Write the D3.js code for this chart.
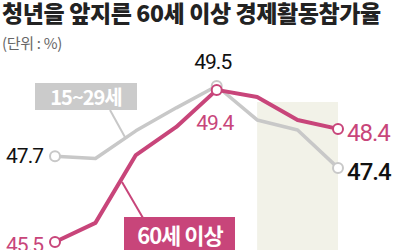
<!DOCTYPE html>
<html>
<head>
<meta charset="utf-8">
<script src="https://cdn.jsdelivr.net/npm/d3@7"></script>
<style>
  body { margin: 0; background: #fff; }
  svg { display: block; }
  .num { font-family: Roboto, "Noto Sans", sans-serif; }
</style>
</head>
<body>
<svg id="chart" width="400" height="250"></svg>
<script>
// periods (no axis shown in the original)
const periods = ['1', '2', '3', '4', '5', '6', '7', '8'];
const youth = [47.7, 47.64, 48.35, 48.94, 49.5, 48.63, 48.37, 47.4];   // 15~29세
const senior = [45.5, 45.99, 47.73, 48.45, 49.4, 49.22, 48.63, 48.4];  // 60세 이상
const highlightFrom = '6', highlightTo = '8';

const pink = '#c8457a', gray = '#c8c8c8';

const svg = d3.select('#chart');

const x = d3.scalePoint().domain(periods).range([55, 338]);
const y = d3.scaleLinear().domain([45.5, 49.5]).range([242, 86]);

// title
svg.append('text')
  .attr('x', 2).attr('y', 22)
  .style('font-family', '"Noto Sans CJK KR", sans-serif')
  .style('font-weight', 900)
  .style('font-size', '23px')
  .style('letter-spacing', '-0.4px')
  .attr('fill', '#222')
  .text('청년을 앞지른 60세 이상 경제활동참가율');

svg.append('text')
  .attr('x', 2).attr('y', 49)
  .style('font-family', '"Noto Sans CJK KR", sans-serif')
  .style('font-size', '15px')
  .style('letter-spacing', '-0.3px')
  .attr('fill', '#666')
  .text('(단위 : %)');

// highlighted period
svg.append('rect')
  .attr('x', x(highlightFrom))
  .attr('y', 102)
  .attr('width', x(highlightTo) - x(highlightFrom))
  .attr('height', 250 - 102)
  .attr('fill', '#f2f2e8');

const line = d3.line().x((d, i) => x(periods[i])).y(d => y(d));

function drawSeries(values, color, width) {
  svg.append('path')
    .datum(values)
    .attr('d', line)
    .attr('fill', 'none')
    .attr('stroke', color)
    .attr('stroke-width', width)
    .attr('stroke-linejoin', 'round');
}

// leader lines
svg.append('line').attr('x1', 110).attr('y1', 110).attr('x2', 126).attr('y2', 139)
  .attr('stroke', gray).attr('stroke-width', 2);
svg.append('line').attr('x1', 122).attr('y1', 182).attr('x2', 143).attr('y2', 218)
  .attr('stroke', pink).attr('stroke-width', 2);

drawSeries(youth, gray, 3.5);
drawSeries(senior, pink, 4);

// end / peak markers
function marker(i, values, color) {
  svg.append('circle')
    .attr('cx', x(periods[i])).attr('cy', y(values[i]))
    .attr('r', 5)
    .attr('fill', '#fff')
    .attr('stroke', color)
    .attr('stroke-width', 2);
}
marker(0, youth, gray); marker(4, youth, gray); marker(7, youth, gray);
marker(0, senior, pink); marker(4, senior, pink); marker(7, senior, pink);

// value labels
function label(txt, px, py, color, size, anchor, weight) {
  svg.append('text')
    .attr('class', 'num')
    .attr('x', px).attr('y', py)
    .attr('text-anchor', anchor)
    .style('font-size', size + 'px')
    .style('font-weight', weight || 400)
    .style('letter-spacing', '-1px')
    .attr('fill', color)
    .text(txt);
}
label(youth[0].toFixed(1), 43, y(youth[0]) + 7, '#111', 21, 'end');
label(senior[0].toFixed(1), 43, y(senior[0]) + 10, pink, 21, 'end');
label(youth[4].toFixed(1), x(periods[4]) - 4, 69, '#111', 21, 'middle');
label(senior[4].toFixed(1), x(periods[4]) - 2, 130, pink, 21, 'middle');
label(senior[7].toFixed(1), 347, y(senior[7]) + 12, pink, 24, 'start');
label(youth[7].toFixed(1), 347, y(youth[7]) + 12, '#111', 24, 'start', 500);

// series name boxes
svg.append('rect').attr('x', 35).attr('y', 83).attr('width', 102).attr('height', 27).attr('fill', '#cbcbcb');
svg.append('text')
  .attr('x', 86).attr('y', 105)
  .attr('text-anchor', 'middle')
  .style('font-family', '"Noto Sans CJK KR", sans-serif')
  .style('font-weight', 700).style('font-size', '20px').style('letter-spacing', '-1px')
  .attr('fill', '#fff')
  .text('15~29세');

svg.append('rect').attr('x', 124).attr('y', 217).attr('width', 111).attr('height', 33).attr('fill', pink);
svg.append('text')
  .attr('x', 180).attr('y', 244)
  .attr('text-anchor', 'middle')
  .style('font-family', '"Noto Sans CJK KR", sans-serif')
  .style('font-weight', 700).style('font-size', '22px').style('letter-spacing', '-1px')
  .attr('fill', '#fff')
  .text('60세 이상');
</script>
</body>
</html>
